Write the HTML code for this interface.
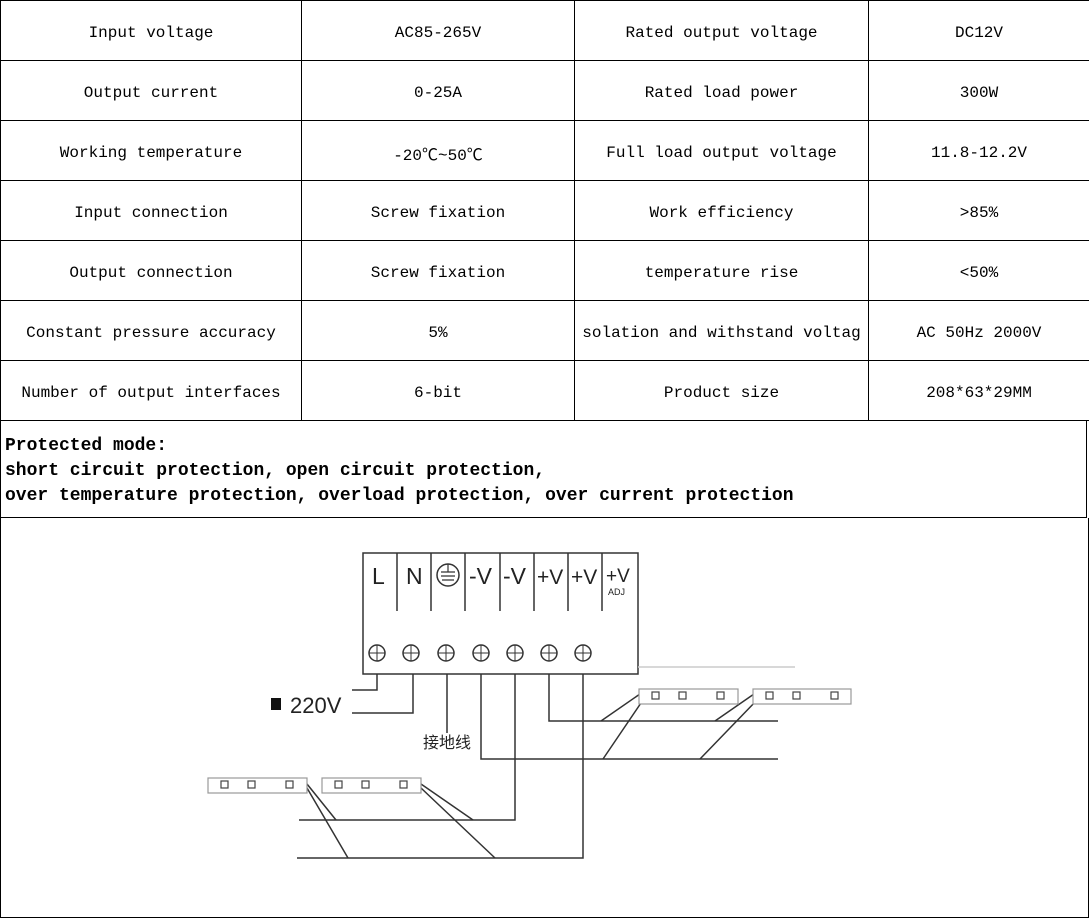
<!DOCTYPE html>
<html><head><meta charset="utf-8"><style>
body{margin:0;background:#fff;width:1089px;height:918px;overflow:hidden;position:relative;font-family:"Liberation Mono","Noto Sans CJK SC",monospace;}
table{position:absolute;left:0;top:0;border-collapse:collapse;width:1089px;table-layout:fixed}
td{border:1px solid #000;height:60px;text-align:center;font-size:16px;padding:4px 0 0 0;box-sizing:border-box;white-space:nowrap;overflow:hidden;color:#000}
.p{position:absolute;left:0;top:420px;width:1087px;height:98px;border:1px solid #000;border-top:none;font-size:18px;line-height:25px;box-sizing:border-box;padding:14px 0 0 4px;font-weight:bold}
.d{position:absolute;left:0;top:518px;width:1089px;height:400px;border:1px solid #000;border-top:none;box-sizing:border-box}
svg{position:absolute;left:0;top:0}
</style></head><body>
<table>
<colgroup><col style="width:301px"><col style="width:273px"><col style="width:294px"><col style="width:221px"></colgroup>
<tr><td>Input voltage</td><td>AC85-265V</td><td>Rated output voltage</td><td>DC12V</td></tr>
<tr><td>Output current</td><td>0-25A</td><td>Rated load power</td><td>300W</td></tr>
<tr><td>Working temperature</td><td>-20℃~50℃</td><td>Full load output voltage</td><td>11.8-12.2V</td></tr>
<tr><td>Input connection</td><td>Screw fixation</td><td>Work efficiency</td><td>&gt;85%</td></tr>
<tr><td>Output connection</td><td>Screw fixation</td><td>temperature rise</td><td>&lt;50%</td></tr>
<tr><td>Constant pressure accuracy</td><td>5%</td><td>solation and withstand voltag</td><td>AC 50Hz 2000V</td></tr>
<tr><td>Number of output interfaces</td><td>6-bit</td><td>Product size</td><td>208*63*29MM</td></tr>
</table>
<div class="p">Protected mode:<br>short circuit protection, open circuit protection,<br>over temperature protection, overload protection, over current protection</div>
<div class="d"></div>
<svg width="1089" height="918" viewBox="0 0 1089 918" font-family="Liberation Sans, sans-serif">
<g stroke="#333" stroke-width="1.5" fill="none">
<rect x="363" y="553" width="275" height="121"/>
<path d="M397 553V611M431 553V611M465 553V611M500 553V611M534 553V611M568 553V611M602 553V611"/>
<path d="M638 667H795" stroke="#ccc"/>
<path d="M377 674V690H352M413 674V713H352M447 674V733M481 674V759H778M515 674V820H299M549 674V721H778M583 674V858H297"/>
<path d="M640 694L601 721M643 700L603 759M754 694L715 721M757 700L700 759"/>
<path d="M307 784L336 820M307 788L348 858M421 784L473 820M421 788L495 858"/>
</g>
<g stroke="#333" stroke-width="1.5" fill="#fff">
<circle cx="377" cy="653" r="8"/><circle cx="411" cy="653" r="8"/><circle cx="446" cy="653" r="8"/><circle cx="481" cy="653" r="8"/><circle cx="515" cy="653" r="8"/><circle cx="549" cy="653" r="8"/><circle cx="583" cy="653" r="8"/>
<path d="M369 653H385M377 645V661M403 653H419M411 645V661M438 653H454M446 645V661M473 653H489M481 645V661M507 653H523M515 645V661M541 653H557M549 645V661M575 653H591M583 645V661" stroke-width="1"/>
<circle cx="448" cy="575" r="11"/>
<path d="M441 572H455M441 576H455M442 580H454M448 564V572" stroke-width="1.2"/>
</g>
<g fill="#222" font-size="23">
<text x="372" y="584">L</text><text x="406" y="584">N</text>
<text x="469" y="584">-V</text><text x="503" y="584">-V</text>
<text x="537" y="584" font-size="21">+V</text><text x="571" y="584" font-size="21">+V</text>
<text x="606" y="582" font-size="19">+V</text>
<text x="608" y="595" font-size="9">ADJ</text>
<text x="290" y="713" font-size="22">220V</text>
<text x="423" y="748" font-size="16" font-family="Noto Sans CJK SC, sans-serif">接地线</text>
</g>
<rect x="271" y="698" width="10" height="12" fill="#111"/>
<g stroke="#999" stroke-width="1.2" fill="#fff">
<rect x="639" y="689" width="99" height="15"/><rect x="753" y="689" width="98" height="15"/>
<rect x="208" y="778" width="99" height="15"/><rect x="322" y="778" width="99" height="15"/>
</g>
<g stroke="#444" stroke-width="1.2" fill="none">
<rect x="652" y="692" width="7" height="7"/><rect x="679" y="692" width="7" height="7"/><rect x="717" y="692" width="7" height="7"/>
<rect x="766" y="692" width="7" height="7"/><rect x="793" y="692" width="7" height="7"/><rect x="831" y="692" width="7" height="7"/>
<rect x="221" y="781" width="7" height="7"/><rect x="248" y="781" width="7" height="7"/><rect x="286" y="781" width="7" height="7"/>
<rect x="335" y="781" width="7" height="7"/><rect x="362" y="781" width="7" height="7"/><rect x="400" y="781" width="7" height="7"/>
</g>
</svg>
</body></html>
